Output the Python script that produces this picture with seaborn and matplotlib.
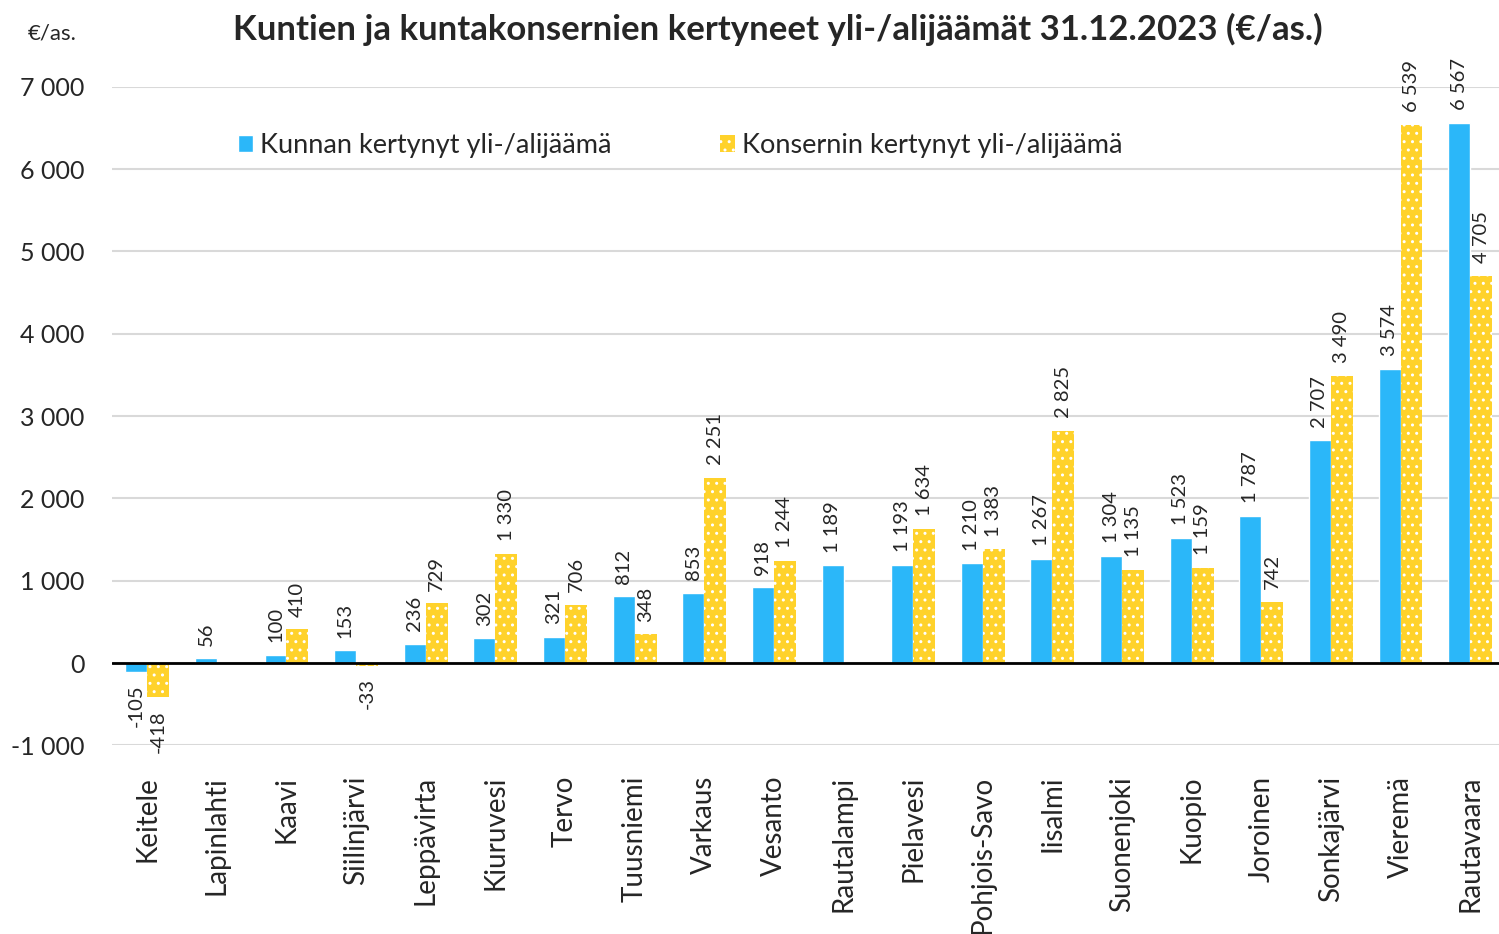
import pandas as pd
import numpy as np
import matplotlib.pyplot as plt
import seaborn as sns


# Data
kunnat = ["Keitele", "Lapinlahti", "Kaavi", "Siilinjärvi", "Leppävirta",
          "Kiuruvesi", "Tervo", "Tuusniemi", "Varkaus", "Vesanto",
          "Rautalampi", "Pielavesi", "Pohjois-Savo", "Iisalmi", "Suonenjoki",
          "Kuopio", "Joroinen", "Sonkajärvi", "Vieremä", "Rautavaara"]
kunta = [-105, 56, 100, 153, 236, 302, 321, 812, 853, 918,
         1189, 1193, 1210, 1267, 1304, 1523, 1787, 2707, 3574, 6567]
konserni = [-418, np.nan, 410, -33, 729, 1330, 706, 348, 2251, 1244,
            np.nan, 1634, 1383, 2825, 1135, 1159, 742, 3490, 6539, 4705]
sarjat = ["Kunnan kertynyt yli-/alijäämä", "Konsernin kertynyt yli-/alijäämä"]
y_ticks = [-1000, 0, 1000, 2000, 3000, 4000, 5000, 6000, 7000]

df = pd.DataFrame({
    "Kunta": kunnat * 2,
    "Arvo": kunta + konserni,
    "Sarja": [sarjat[0]] * len(kunnat) + [sarjat[1]] * len(kunnat),
})


def fmt(v):
    return f"{v:,.0f}".replace(",", " ")


sns.set_style("white")
plt.rcParams["font.family"] = ["Lato", "DejaVu Sans"]
plt.rcParams["hatch.linewidth"] = 1.0

fig = plt.figure(figsize=(14.99, 9.34), dpi=100)
ax = fig.add_axes([0.075, 0.202, 0.929, 0.705])

blue = "#2BB7F9"
yellow = "#FFD22B"

sns.barplot(data=df, x="Kunta", y="Arvo", hue="Sarja", order=kunnat,
            hue_order=sarjat, palette=[blue, yellow], width=0.63,
            saturation=1, ax=ax, legend=False)

# white dotted pattern on the concern bars
for bar in ax.containers[1]:
    bar.set_hatch("..")
    bar.set_edgecolor("white")
    bar.set_linewidth(0)

for cont, vals in zip(ax.containers, [kunta, konserni]):
    labs = [fmt(v) for v in vals if not np.isnan(v)]
    ax.bar_label(cont, labels=labs, rotation=90, padding=9, fontsize=14.5)

ax.set_ylim(-1000, 7000)
ax.set_yticks(y_ticks)
ax.set_yticklabels([fmt(t) for t in y_ticks], fontsize=18)
ax.tick_params(axis="x", labelsize=20, rotation=90, length=0, pad=22)
ax.tick_params(axis="y", length=0, pad=20)
ax.set_xlabel("")
ax.set_ylabel("")
ax.yaxis.grid(True, color="#D9D9D9", linewidth=1.5)
ax.set_axisbelow(True)
ax.axhline(0, color="black", linewidth=2)
sns.despine(ax=ax, left=True, bottom=True)

handles = [plt.Rectangle((0, 0), 1, 1, facecolor=blue),
           plt.Rectangle((0, 0), 1, 1, facecolor=yellow, hatch="..",
                         edgecolor="white", linewidth=0)]
ax.legend(handles, sarjat, loc="upper left", bbox_to_anchor=(0.073, 0.967),
          ncol=2, frameon=False, fontsize=19.5, handlelength=0.55,
          handleheight=0.55, handletextpad=0.25, columnspacing=4.0)

fig.text(0.519, 0.968, "Kuntien ja kuntakonsernien kertyneet yli-/alijäämät 31.12.2023 (€/as.)",
         ha="center", va="center", fontsize=25, fontweight="bold")
fig.text(0.035, 0.964, "€/as.", ha="center", va="center", fontsize=16)

fig.savefig("out.png", dpi=100)
